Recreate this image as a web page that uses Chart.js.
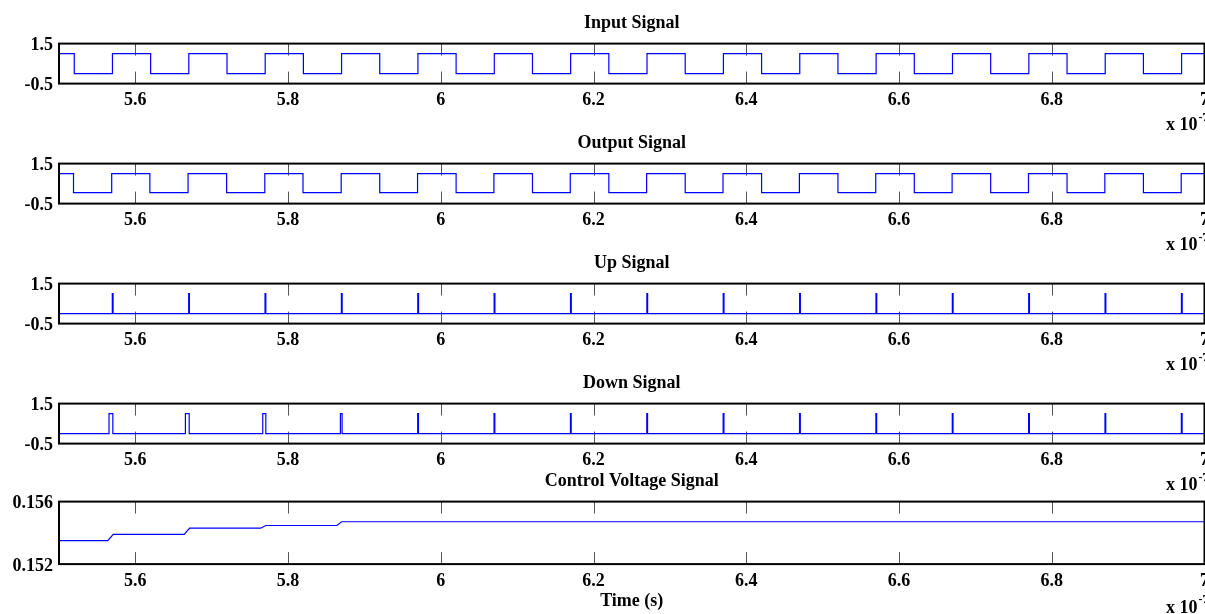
<!DOCTYPE html>
<html>
<head>
<meta charset="utf-8">
<script src="https://cdn.jsdelivr.net/npm/chart.js@4.4.0/dist/chart.umd.min.js"></script>
<style>
  html, body { margin: 0; padding: 0; background: #fff; overflow: hidden; }
  #wrap { position: relative; width: 1205px; height: 614px; overflow: hidden; }
  canvas { position: absolute; left: 0; }
</style>
</head>
<body>
<div id="wrap"></div>
<script>
// time axis is in units of 1e-7 s
const xMin = 5.5;
const xMax = 7.0;
const xTicks = [5.6, 5.8, 6.0, 6.2, 6.4, 6.6, 6.8, 7.0];
const xTickLabels = ["5.6", "5.8", "6", "6.2", "6.4", "6.6", "6.8", "7"];

const logicTicks = [-0.5, 1.5];
const logicTickLabels = ["-0.5", "1.5"];
const vcTicks = [0.152, 0.156];
const vcTickLabels = ["0.152", "0.156"];

const panelTitles = ["Input Signal", "Output Signal", "Up Signal", "Down Signal", "Control Voltage Signal"];

// step traces: each level holds from its time until the next time
const inputTimes = [5.50, 5.52, 5.57, 5.62, 5.67, 5.72, 5.77, 5.82, 5.87, 5.92, 5.97, 6.02, 6.07, 6.12, 6.17, 6.22,
  6.27, 6.32, 6.37, 6.42, 6.47, 6.52, 6.57, 6.62, 6.67, 6.72, 6.77, 6.82, 6.87, 6.92, 6.97, 7.0];
const inputLevels = [1, 0, 1, 0, 1, 0, 1, 0, 1, 0, 1, 0, 1, 0, 1, 0,
  1, 0, 1, 0, 1, 0, 1, 0, 1, 0, 1, 0, 1, 0, 1, 1];

const outputTimes = [5.50, 5.519, 5.569, 5.619, 5.669, 5.7195, 5.7695, 5.8195, 5.8695, 5.92, 5.9695, 6.02, 6.0695, 6.12, 6.1695, 6.22,
  6.2695, 6.32, 6.3695, 6.42, 6.4695, 6.52, 6.5695, 6.62, 6.6695, 6.72, 6.7695, 6.82, 6.8695, 6.92, 6.9695, 7.0];
const outputLevels = [1, 0.05, 1, 0.05, 1, 0.05, 1, 0.05, 1, 0.05, 1, 0.05, 1, 0.05, 1, 0.05,
  1, 0.05, 1, 0.05, 1, 0.05, 1, 0.05, 1, 0.05, 1, 0.05, 1, 0.05, 1, 1];

const upTimes = [5.50, 5.5698, 5.5708, 5.6698, 5.6708, 5.7698, 5.7708, 5.8698, 5.8708, 5.9698, 5.9708, 6.0698, 6.0708,
  6.1698, 6.1708, 6.2698, 6.2708, 6.3698, 6.3708, 6.4698, 6.4708, 6.5698, 6.5708, 6.6698, 6.6708, 6.7698, 6.7708,
  6.8698, 6.8708, 6.9698, 6.9708, 7.0];
const upLevels = [0, 1, 0, 1, 0, 1, 0, 1, 0, 1, 0, 1, 0, 1, 0, 1, 0, 1, 0, 1, 0, 1, 0, 1, 0, 1, 0, 1, 0, 1, 0, 0];

const downTimes = [5.50, 5.5655, 5.5705, 5.6655, 5.6705, 5.7668, 5.7708, 5.8685, 5.8707, 5.9697, 5.9707, 6.0697, 6.0707,
  6.1697, 6.1707, 6.2697, 6.2707, 6.3697, 6.3707, 6.4697, 6.4707, 6.5697, 6.5707, 6.6697, 6.6707, 6.7697, 6.7707,
  6.8697, 6.8707, 6.9697, 6.9707, 7.0];
const downLevels = [0, 1, 0, 1, 0, 1, 0, 1, 0, 1, 0, 1, 0, 1, 0, 1, 0, 1, 0, 1, 0, 1, 0, 1, 0, 1, 0, 1, 0, 1, 0, 0];

// control voltage, plain line
const vcTimes = [5.50, 5.564, 5.571, 5.664, 5.671, 5.764, 5.771, 5.864, 5.870, 7.0];
const vcValues = [0.1535, 0.1535, 0.1539, 0.1539, 0.1543, 0.1543, 0.15447, 0.15447, 0.15471, 0.15471];

const BLUE = "#0000ff";
const FONT = '"Liberation Serif", "Times New Roman", serif';

Chart.defaults.font.family = FONT;
Chart.defaults.font.weight = "bold";
Chart.defaults.font.size = 18;
Chart.defaults.color = "#000";

const toPoints = (xs, ys) => xs.map((x, i) => ({ x, y: ys[i] }));

const framePlugin = {
  id: "frame",
  beforeDatasetsDraw(chart) {
    const { ctx, chartArea: a, scales } = chart;
    ctx.save();
    ctx.strokeStyle = "#555";
    ctx.lineWidth = 1;
    xTicks.forEach((v) => {
      const px = Math.round(scales.x.getPixelForValue(v)) + 0.5;
      ctx.beginPath();
      ctx.moveTo(px, a.top);
      ctx.lineTo(px, a.top + 12);
      ctx.moveTo(px, a.bottom);
      ctx.lineTo(px, a.bottom - 12);
      ctx.stroke();
    });
    ctx.restore();
  },
  afterDraw(chart) {
    const { ctx, chartArea: a } = chart;
    ctx.save();
    ctx.strokeStyle = "#000";
    ctx.lineWidth = 2;
    ctx.strokeRect(a.left, a.top, a.right - a.left, a.bottom - a.top);

    const xr = a.right - 7;
    const yb = a.bottom + chart.options.expOffset;
    ctx.fillStyle = "#000";
    ctx.textBaseline = "middle";
    ctx.font = "bold 18px " + FONT;
    ctx.textAlign = "right";
    ctx.fillText("x 10", xr, yb);
    ctx.font = "bold 12px " + FONT;
    ctx.textAlign = "left";
    ctx.fillText("-7", xr + 1, yb - 8);
    ctx.restore();
  },
};

function makePanel(opts) {
  const { title, plotTop, plotHeight, xHeight, padBottom, yMin, yMax, yTicks, yLabels, data, stepped, xTitle, expOffset } = opts;
  const top = 32.6;
  const height = top + plotHeight + xHeight + padBottom;
  const canvas = document.createElement("canvas");
  canvas.width = 1260;
  canvas.height = Math.ceil(height);
  canvas.style.width = "1260px";
  canvas.style.height = Math.ceil(height) + "px";
  canvas.style.top = (plotTop - top) + "px";
  document.getElementById("wrap").appendChild(canvas);

  new Chart(canvas, {
    type: "line",
    data: {
      datasets: [
        {
          data,
          borderColor: BLUE,
          borderWidth: 1.2,
          pointRadius: 0,
          stepped,
          tension: 0,
          fill: false,
        },
      ],
    },
    options: {
      responsive: false,
      animation: false,
      expOffset,
      layout: { padding: { left: 0, right: 55.5, top: 2, bottom: padBottom + (canvas.height - height) } },
      plugins: {
        legend: { display: false },
        tooltip: { enabled: false },
        title: {
          display: true,
          text: title,
          fullSize: false,
          padding: { top: 0, bottom: 9 },
          font: { size: 18, weight: "bold" },
          color: "#000",
        },
      },
      scales: {
        x: {
          type: "linear",
          min: xMin,
          max: xMax,
          grid: { display: false, drawTicks: false },
          border: { display: false },
          afterBuildTicks: (s) => { s.ticks = xTicks.map((v) => ({ value: v })); },
          afterFit: (s) => { s.height = xHeight; },
          ticks: {
            padding: 6,
            maxRotation: 0,
            autoSkip: false,
            callback: (v, i) => xTickLabels[i],
          },
          title: xTitle
            ? { display: true, text: xTitle, padding: { top: 0, bottom: 0 }, font: { size: 18, weight: "bold" } }
            : { display: false },
        },
        y: {
          type: "linear",
          min: yMin,
          max: yMax,
          grid: { display: false, drawTicks: false },
          border: { display: false },
          afterBuildTicks: (s) => { s.ticks = yTicks.map((v) => ({ value: v })); },
          afterFit: (s) => { s.width = 59; },
          ticks: {
            padding: 6,
            labelOffset: 2,
            callback: (v, i) => yLabels[i],
          },
        },
      },
    },
    plugins: [framePlugin],
  });
}

const logicPanels = [
  { times: inputTimes, levels: inputLevels, top: 43.5 },
  { times: outputTimes, levels: outputLevels, top: 163.5 },
  { times: upTimes, levels: upLevels, top: 284 },
  { times: downTimes, levels: downLevels, top: 404 },
];

logicPanels.forEach((p, i) => {
  makePanel({
    title: panelTitles[i],
    plotTop: p.top,
    plotHeight: 40,
    xHeight: 44,
    padBottom: 8,
    yMin: -0.5,
    yMax: 1.5,
    yTicks: logicTicks,
    yLabels: logicTickLabels,
    data: toPoints(p.times, p.levels),
    stepped: true,
    expOffset: 42,
  });
});

makePanel({
  title: panelTitles[4],
  plotTop: 502,
  plotHeight: 62.5,
  xHeight: 48,
  padBottom: 4,
  yMin: 0.152,
  yMax: 0.156,
  yTicks: vcTicks,
  yLabels: vcTickLabels,
  data: toPoints(vcTimes, vcValues),
  stepped: false,
  xTitle: "Time (s)",
  expOffset: 44,
});
</script>
</body>
</html>
